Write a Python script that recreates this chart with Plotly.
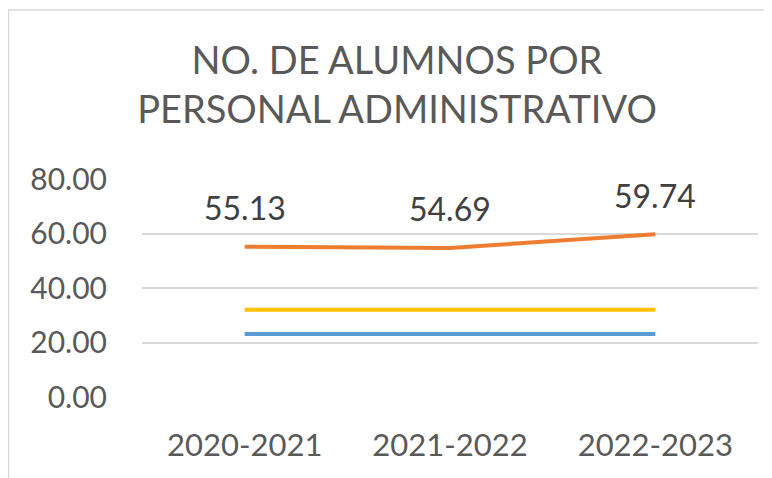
import plotly.graph_objects as go

# ciclos escolares y valores
ciclos = ["2020-2021", "2021-2022", "2022-2023"]
alumnos_por_admin = [55.13, 54.69, 59.74]
serie_amarilla = [32.0, 32.0, 32.0]
serie_azul = [23.1, 23.1, 23.1]

# la página tiene un margen de 8px, así que se descuenta aquí
W, H = 764, 470
L, R, T, B = 134, 14, 171, 81

fig = go.Figure()

fig.add_trace(go.Scatter(x=ciclos, y=serie_azul, mode="lines",
                         line=dict(color="#5B9BD5", width=4), hoverinfo="skip"))
fig.add_trace(go.Scatter(x=ciclos, y=serie_amarilla, mode="lines",
                         line=dict(color="#FFC000", width=4), hoverinfo="skip"))
fig.add_trace(go.Scatter(x=ciclos, y=alumnos_por_admin, mode="lines",
                         line=dict(color="#ED7D31", width=4)))

# etiquetas de datos de la serie naranja
for c, v in zip(ciclos, alumnos_por_admin):
    fig.add_annotation(x=c, y=v, text=f"{v:.2f}", showarrow=False,
                       yshift=39, yanchor="middle",
                       font=dict(size=32, color="#404040"))

# marco del área del gráfico (coordenadas de papel)
pw, ph = W - L - R, H - T - B
def px_x(p): return (p - L) / pw
def px_y(p): return (H - B - p) / ph

fig.add_shape(type="line", xref="paper", yref="paper",
              x0=px_x(0.5), x1=px_x(0.5), y0=px_y(2), y1=px_y(H),
              line=dict(color="#d9d9d9", width=1.5))
fig.add_shape(type="line", xref="paper", yref="paper",
              x0=px_x(0), x1=px_x(W), y0=px_y(2), y1=px_y(2),
              line=dict(color="#d9d9d9", width=1.5))

fig.update_layout(
    width=W, height=H,
    margin=dict(l=L, r=R, t=T, b=B),
    paper_bgcolor="white", plot_bgcolor="white",
    showlegend=False,
    font=dict(family="Lato, 'Open Sans', sans-serif", color="#595959"),
    title=dict(text="NO. DE ALUMNOS POR<br>PERSONAL ADMINISTRATIVO",
               x=(389 / W), xanchor="center",
               yref="container", y=1 - 66 / H, yanchor="top",
               font=dict(size=38, color="#595959")),
    xaxis=dict(range=[-0.5, 2.5], showgrid=False, showline=False, ticks="",
               tickfont=dict(size=31, color="#595959"), ticklabelstandoff=27),
    yaxis=dict(range=[0, 80], dtick=20, tickformat=".2f",
               gridcolor="#d9d9d9", gridwidth=1.5, zeroline=False,
               showline=False, ticks="",
               tickfont=dict(size=30, color="#595959"), ticklabelstandoff=34),
)

fig.write_html("out.html")
